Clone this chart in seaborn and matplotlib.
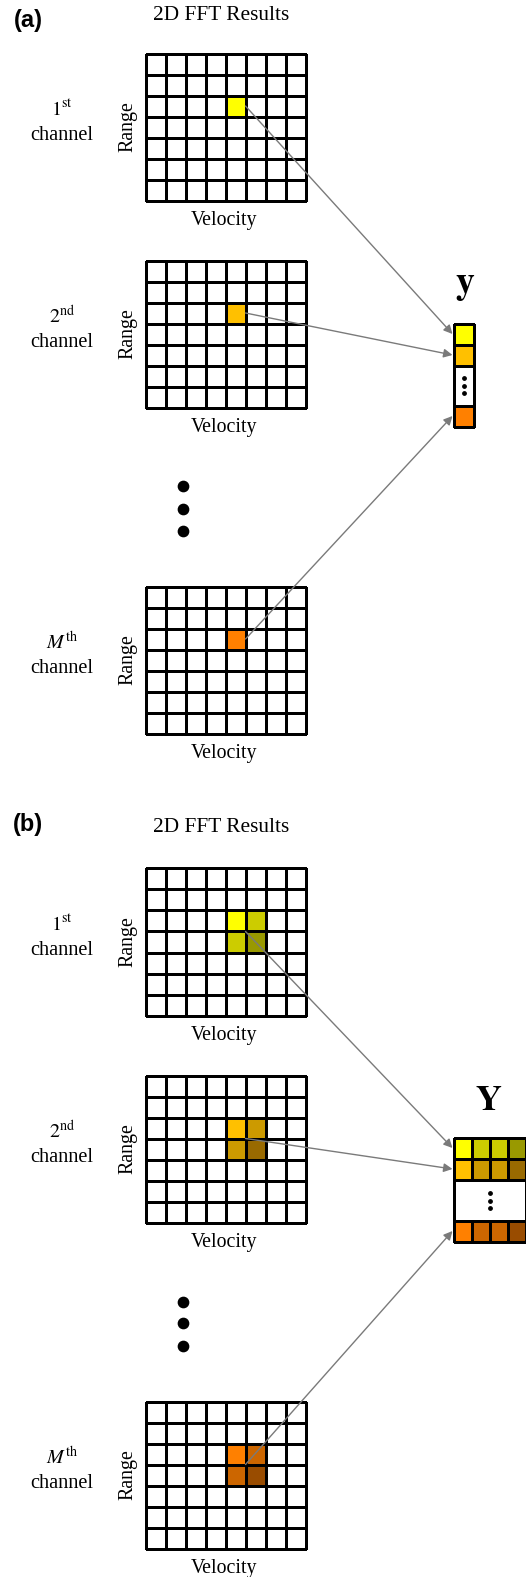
import numpy as np
import matplotlib
matplotlib.use("Agg")
import matplotlib.pyplot as plt
from matplotlib.colors import ListedColormap
import seaborn as sns

# ---------------- data ----------------
grid_rows = 7
grid_cols = 8
peak_row = 2
peak_col = 4
channel_nums = ["1", "2", "M"]
channel_sups = ["st", "nd", "th"]
colors_a = ["#FFFF00", "#FFC000", "#FF8000"]
colors_b = [
    ["#FFFF00", "#CCCC00", "#CCCC00", "#999900"],
    ["#FFC000", "#CC9A00", "#CC9A00", "#996A00"],
    ["#FF8000", "#CC6600", "#CC6600", "#994C00"],
]
panel_labels = ["(a)", "(b)"]
title_text = "2D FFT Results"
x_label = "Velocity"
y_label = "Range"

# ---------------- layout (pixels) ----------------
W, H = 526, 1577
sns.set_theme(style="white")
plt.rcParams["font.family"] = ["Liberation Serif", "DejaVu Serif"]
plt.rcParams["mathtext.fontset"] = "stix"
plt.rcParams["text.color"] = "black"

fig = plt.figure(figsize=(W / 100, H / 100), dpi=100)
fig.patch.set_facecolor("white")

GX0, GX1 = 145.5, 305.5
grid_tops = [[53.5, 260.5, 586.5], [868.5, 1075.5, 1401.5]]
GH = 147
panel_label_y = [20, 825]
title_y = [15, 827]
dots_y = [[486, 509, 531], [1302, 1323, 1346]]
VX0 = 453.5
vec_rows_a = [323.5, 365.5, 405.5, 426.5]
vec_rows_b = [1137.5, 1179.5, 1220.5, 1241.5]
LW = 0.78
ARROW_C = "#7a7a7a"


def px_axes(x0, y0, x1, y1):
    return fig.add_axes([x0 / W, 1 - y1 / H, (x1 - x0) / W, (y1 - y0) / H])


def draw_heat(ax, codes, colors):
    cmap = ListedColormap(["white"] + list(colors))
    sns.heatmap(codes, ax=ax, cmap=cmap, vmin=-0.5, vmax=len(colors) + 0.5,
                cbar=False, linewidths=LW, linecolor="black",
                xticklabels=False, yticklabels=False)
    for c in ax.collections:
        c.set_clip_on(False)
    ax.set_xlabel("")
    ax.set_ylabel("")
    ax.tick_params(length=0)


# grids
for p in range(2):
    for i in range(3):
        top = grid_tops[p][i]
        ax = px_axes(GX0, top, GX1, top + GH)
        codes = np.zeros((grid_rows, grid_cols))
        if p == 0:
            codes[peak_row, peak_col] = 1
            draw_heat(ax, codes, [colors_a[i]])
        else:
            codes[peak_row:peak_row + 2, peak_col:peak_col + 2] = [[1, 2], [3, 4]]
            draw_heat(ax, codes, colors_b[i])

# vector y (a)
r = vec_rows_a
ax = px_axes(VX0, r[0], VX0 + 20, r[1])
draw_heat(ax, np.array([[1], [2]]), colors_a[:2])
ax = px_axes(VX0, r[1], VX0 + 20, r[2])
draw_heat(ax, np.array([[0]]), [])
ax = px_axes(VX0, r[2], VX0 + 20, r[3])
draw_heat(ax, np.array([[1]]), colors_a[2:])

# matrix Y (b)
r = vec_rows_b
ax = px_axes(VX0, r[0], VX0 + 72, r[1])
draw_heat(ax, np.array([[1, 2, 3, 4], [5, 6, 7, 8]]), colors_b[0] + colors_b[1])
ax = px_axes(VX0, r[1], VX0 + 72, r[2])
draw_heat(ax, np.array([[0]]), [])
ax = px_axes(VX0, r[2], VX0 + 72, r[3])
draw_heat(ax, np.array([[1, 2, 3, 4]]), colors_b[2])

# overlay
ov = fig.add_axes([0, 0, 1, 1])
ov.set_xlim(0, W)
ov.set_ylim(H, 0)
ov.axis("off")
ov.patch.set_alpha(0)

cell_w = (GX1 - GX0) / grid_cols
cell_h = GH / grid_rows

for p in range(2):
    ov.text(28, panel_label_y[p], panel_labels[p], family=["Liberation Sans", "DejaVu Sans"],
            weight="bold", fontsize=17, ha="center", va="center", color="black")
    ov.text(221, title_y[p], title_text, fontsize=15.4, ha="center", va="center", color="black")
    ov.scatter([183] * 3, dots_y[p], s=55, color="black", zorder=5)
    for i in range(3):
        top = grid_tops[p][i]
        num = channel_nums[i]
        if num == "M":
            lab = r"$M^{\mathrm{%s}}$" % channel_sups[i]
        else:
            lab = r"$\mathrm{%s}^{\mathrm{%s}}$" % (num, channel_sups[i])
        ov.text(62, top + 57, lab, fontsize=14.5, ha="center", va="center", color="black")
        ov.text(62, top + 82, "channel", fontsize=14.6, ha="center", va="center", color="black")
        ov.text(128, top + GH / 2, y_label, fontsize=14.3, rotation=90, ha="center",
                va="center", color="black")
        ov.text(224, top + GH + 20, x_label, fontsize=14.3, ha="center", va="center",
                color="black")

        # arrows
        if p == 0:
            start = (GX0 + (peak_col + 1) * cell_w, top + (peak_row + 0.5) * cell_h)
            rows = vec_rows_a
        else:
            start = (GX0 + (peak_col + 1) * cell_w, top + (peak_row + 1) * cell_h)
            rows = vec_rows_b
        cell = (rows[1] - rows[0]) / 2
        targets = [rows[0] + cell / 2, rows[0] + 1.5 * cell, (rows[2] + rows[3]) / 2]
        ov.annotate("", xy=(VX0 - 1, targets[i]), xytext=start,
                    arrowprops=dict(arrowstyle="-|>", color=ARROW_C, lw=1.0,
                                    mutation_scale=13, shrinkA=0, shrinkB=0),
                    zorder=6)

# ellipsis dots in vector/matrix
ov.scatter([463.5] * 3, [378, 385.5, 393], s=6, color="black", zorder=5)
ov.scatter([489.5] * 3, [1193, 1200.5, 1208], s=6, color="black", zorder=5)

ov.text(465, 286, r"$\mathbf{y}$", fontsize=27, ha="center", va="center", color="black")
ov.text(489, 1102, r"$\mathbf{Y}$", fontsize=26, ha="center", va="center", color="black")

fig.savefig("out.png", dpi=100, facecolor="white")
